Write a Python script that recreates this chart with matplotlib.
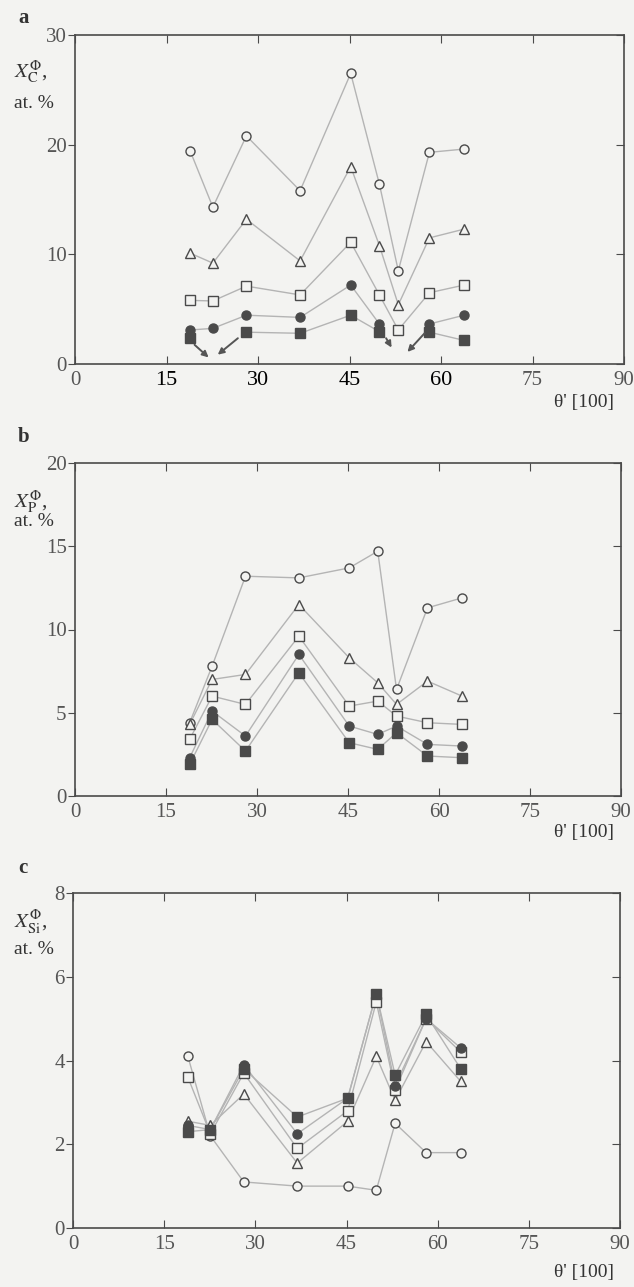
import numpy as np
import matplotlib
matplotlib.use('Agg')
import matplotlib.pyplot as plt

plt.rcParams['font.family'] = ['Liberation Serif', 'DejaVu Serif']
plt.rcParams['mathtext.fontset'] = 'stix'

nan = np.nan
theta = [18.9, 22.6, 28.1, 36.9, 45.2, 49.9, 53.0, 58.1, 63.8]

# a: carbon
c_circle = [19.4, 14.3, 20.8, 15.8, 26.5, 16.4, 8.5, 19.3, 19.6]
c_tri = [10.1, 9.2, 13.2, 9.4, 18.0, 10.8, 5.4, 11.5, 12.3]
c_square = [5.8, 5.75, 7.1, 6.3, 11.1, 6.3, 3.1, 6.5, 7.2]
c_fcircle = [3.1, 3.25, 4.45, 4.25, 7.2, 3.65, nan, 3.65, 4.45]
c_fsquare = [2.35, nan, 2.9, 2.8, 4.45, 2.95, nan, 2.9, 2.15]
# arrows (start x, start y, end x, end y) for values off the scale
c_arrows = [(19.6, 1.75, 21.9, 0.6), (26.7, 2.35, 23.4, 0.85),
            (51.0, 2.35, 51.9, 1.5), (57.3, 2.8, 54.5, 1.1)]

# b: phosphorus
p_circle = [4.4, 7.8, 13.2, 13.1, 13.7, 14.7, 6.4, 11.3, 11.9]
p_tri = [4.3, 7.0, 7.3, 11.5, 8.3, 6.8, 5.5, 6.9, 6.0]
p_square = [3.4, 6.0, 5.5, 9.6, 5.4, 5.7, 4.8, 4.4, 4.3]
p_fcircle = [2.3, 5.1, 3.6, 8.5, 4.2, 3.7, 4.2, 3.1, 3.0]
p_fsquare = [1.9, 4.6, 2.7, 7.4, 3.2, 2.8, 3.8, 2.4, 2.3]

# c: silicon
s_circle = [4.1, 2.2, 1.1, 1.0, 1.0, 0.9, 2.5, 1.8, 1.8]
s_tri = [2.55, 2.45, 3.2, 1.55, 2.55, 4.1, 3.05, 4.45, 3.5]
s_square = [3.6, 2.25, 3.7, 1.9, 2.8, 5.4, 3.3, 5.0, 4.2]
s_fcircle = [2.45, 2.35, 3.9, 2.25, 3.1, 5.6, 3.4, 5.0, 4.3]
s_fsquare = [2.3, 2.35, 3.8, 2.65, 3.1, 5.6, 3.65, 5.1, 3.8]

xticks = [0, 15, 30, 45, 60, 75, 90]

bg = '#f3f3f1'
dark = '#4a4a4a'
linec = '#b4b4b4'

fig = plt.figure(figsize=(6.34, 12.87), dpi=100, facecolor=bg)
H = 1287.0
W = 634.0


def make_axes(left, right, top, bottom):
    return fig.add_axes([left / W, 1 - bottom / H, (right - left) / W, (bottom - top) / H])


def draw_series(ax, series):
    styles = [('o', 'none'), ('^', 'none'), ('s', 'none'), ('o', dark), ('s', dark)]
    for vals, (m, fc) in zip(series, styles):
        ax.plot(theta, vals, color=linec, lw=1.0, zorder=1)
        face = bg if fc == 'none' else fc
        ax.plot(theta, vals, ls='none', marker=m, ms=6.5, mec=dark, mfc=face,
                mew=1.0, zorder=3)


def style_axes(ax, yticks, ymax):
    ax.set_facecolor(bg)
    ax.set_xlim(0, 90)
    ax.set_ylim(0, ymax)
    ax.set_xticks(xticks)
    ax.set_yticks(yticks)
    for s in ax.spines.values():
        s.set_color(dark)
        s.set_linewidth(1.2)
    ax.tick_params(axis='x', direction='in', length=6, top=True, color=dark,
                   labelsize=15, labelcolor='#555555', pad=5)
    ax.tick_params(axis='y', direction='out', length=5, color=dark,
                   labelsize=15, labelcolor='#555555', pad=1)
    ax.tick_params(axis='y', which='major', right=True)
    # right ticks inward
    for t in ax.yaxis.get_major_ticks():
        t.tick2line.set_marker(matplotlib.lines.TICKLEFT)
        t.tick2line.set_markersize(6)


# panel a
ax1 = make_axes(75, 624, 35, 364)
draw_series(ax1, [c_circle, c_tri, c_square, c_fcircle, c_fsquare])
style_axes(ax1, [0, 10, 20, 30], 30)
for x0, y0, x1, y1 in c_arrows:
    ax1.annotate('', xy=(x1, y1), xytext=(x0, y0),
                 arrowprops=dict(arrowstyle='-|>', color='#555555', lw=1.4,
                                 mutation_scale=9, shrinkA=0, shrinkB=0))
for lab in ax1.get_xticklabels():
    if lab.get_text() in ('15', '30', '45', '60'):
        lab.set_color('black')
        lab.set_fontsize(16)
ax1.set_yticks([0, 10, 20, 30])

# panel b
ax2 = make_axes(75, 621, 463, 796)
draw_series(ax2, [p_circle, p_tri, p_square, p_fcircle, p_fsquare])
style_axes(ax2, [0, 5, 10, 15, 20], 20)

# panel c
ax3 = make_axes(73, 620, 893, 1228)
draw_series(ax3, [s_circle, s_tri, s_square, s_fcircle, s_fsquare])
style_axes(ax3, [0, 2, 4, 6, 8], 8)

txt = '#333333'
# panel letters
fig.text(18 / W, 1 - 18 / H, 'a', fontsize=15, fontweight='bold', color=txt, va='center')
fig.text(18 / W, 1 - 437 / H, 'b', fontsize=15, fontweight='bold', color=txt, va='center')
fig.text(18 / W, 1 - 868 / H, 'c', fontsize=15, fontweight='bold', color=txt, va='center')

# y labels
fig.text(14 / W, 1 - 72 / H, r'$X_{\mathrm{C}}^{\Phi}$,', fontsize=15, color=txt, va='center')
fig.text(14 / W, 1 - 103 / H, 'at. %', fontsize=14, color=txt, va='center')
fig.text(14 / W, 1 - 502 / H, r'$X_{\mathrm{P}}^{\Phi}$,', fontsize=15, color=txt, va='center')
fig.text(14 / W, 1 - 522 / H, 'at. %', fontsize=14, color=txt, va='center')
fig.text(14 / W, 1 - 922 / H, r'$X_{\mathrm{Si}}^{\Phi}$,', fontsize=15, color=txt, va='center')
fig.text(14 / W, 1 - 950 / H, 'at. %', fontsize=14, color=txt, va='center')

# x labels
for yy in (403, 833, 1272):
    fig.text(614 / W, 1 - yy / H, "θ' [100]", fontsize=14, color=txt,
             ha='right', va='center')

fig.savefig('out.png', dpi=100, facecolor=bg)
